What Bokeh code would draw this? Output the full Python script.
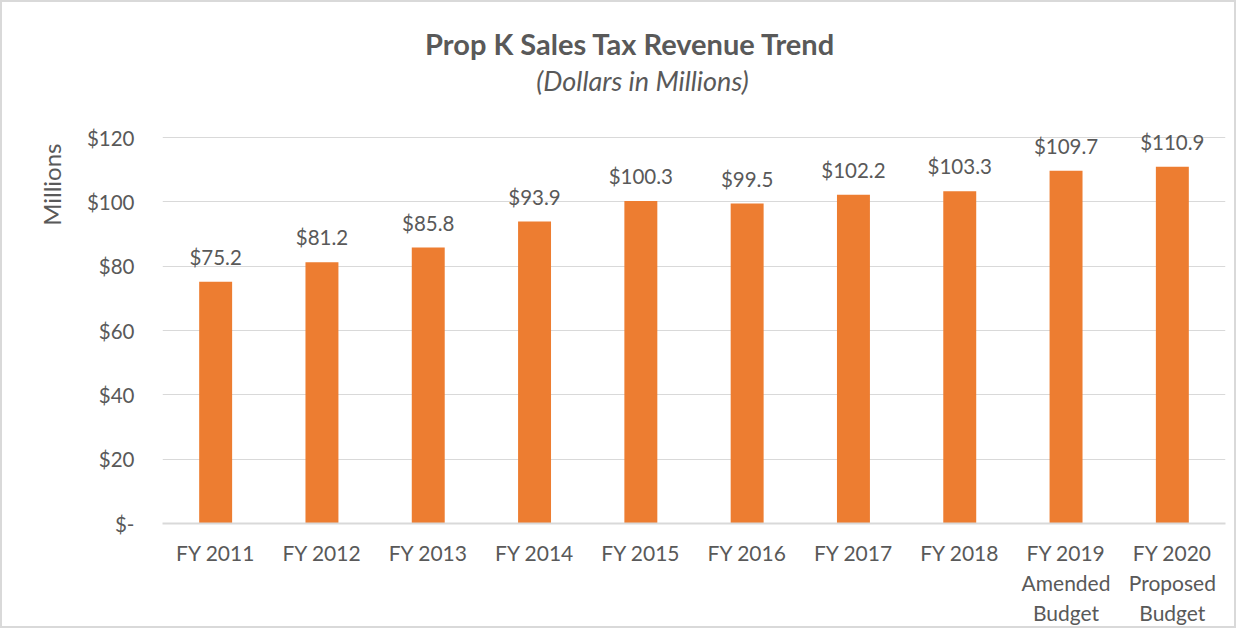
from bokeh.plotting import figure
from bokeh.models import ColumnDataSource, Range1d, FixedTicker, PrintfTickFormatter, Label, LabelSet, Title
from bokeh.core.properties import value
from bokeh.embed import file_html
from bokeh.resources import INLINE

categories = ["FY 2011", "FY 2012", "FY 2013", "FY 2014", "FY 2015", "FY 2016",
              "FY 2017", "FY 2018", "FY 2019\nAmended\nBudget", "FY 2020\nProposed\nBudget"]
revenue = [75.2, 81.2, 85.8, 93.9, 100.3, 99.5, 102.2, 103.3, 109.7, 110.9]
bar_labels = ["$%.1f" % v for v in revenue]
y_ticks = [0, 20, 40, 60, 80, 100, 120]

FONT = "Lato"
TXT = "#595959"
ORANGE = "#ED7D31"
GRID = "#D9D9D9"

src = ColumnDataSource(dict(cat=categories, val=revenue, lab=bar_labels))

# frame spans the full height above the axis so titles can be drawn inside it
p = figure(width=1236, height=628, x_range=categories, y_range=Range1d(0, 162),
           output_backend="svg", toolbar_location=None,
           min_border_left=160, min_border_right=13, min_border_top=0, min_border_bottom=107)
p.styles = {"border": "2px solid #D9D9D9"}
p.outline_line_color = None

p.vbar(x="cat", top="val", width=0.31, source=src, fill_color=ORANGE, line_color=None)

labels = LabelSet(x="cat", y="val", text="lab", source=src, text_align="center",
                  text_baseline="alphabetic", y_offset=17, text_font=value(FONT),
                  text_font_size="20.5px", text_color=TXT)
p.add_layout(labels)

p.yaxis.ticker = FixedTicker(ticks=y_ticks)
p.yaxis.formatter = PrintfTickFormatter(format="$%d")
p.yaxis.major_label_overrides = {0: "$-"}
p.yaxis.axis_line_color = None
p.yaxis.major_tick_line_color = None
p.yaxis.minor_tick_line_color = None
p.yaxis.major_tick_out = 0
p.yaxis.major_label_standoff = 28

for ax in (p.xaxis, p.yaxis):
    ax.major_label_text_font = FONT
    ax.major_label_text_font_size = "20.5px"
    ax.major_label_text_color = TXT

p.xaxis.major_label_text_font_size = "21px"
p.xaxis.axis_line_color = GRID
p.xaxis.axis_line_width = 2
p.xaxis.major_tick_line_color = None
p.xaxis.minor_tick_line_color = None
p.xaxis.major_tick_out = 0
p.xaxis.major_label_standoff = 16
p.xaxis.major_label_text_line_height = 1.2

p.xgrid.grid_line_color = None
p.ygrid.grid_line_color = GRID
p.ygrid.grid_line_width = 1

title = Label(x=468, y=480, x_units="screen", y_units="screen",
              text="Prop K Sales Tax Revenue Trend", text_align="center",
              text_baseline="alphabetic", text_font=FONT, text_font_size="29px",
              text_font_style="bold", text_color=TXT)
subtitle = Label(x=480, y=443, x_units="screen", y_units="screen",
                 text="(Dollars in Millions)", text_align="center",
                 text_baseline="alphabetic", text_font=FONT, text_font_size="27px",
                 text_font_style="italic", text_color=TXT)
p.add_layout(title)
p.add_layout(subtitle)

ylab = Title(text="Millions", align="right", offset=141, standoff=35,
             text_font=FONT, text_font_size="24px", text_font_style="normal", text_color=TXT)
p.add_layout(ylab, "left")

open("out.html", "w").write(file_html(p, INLINE))
